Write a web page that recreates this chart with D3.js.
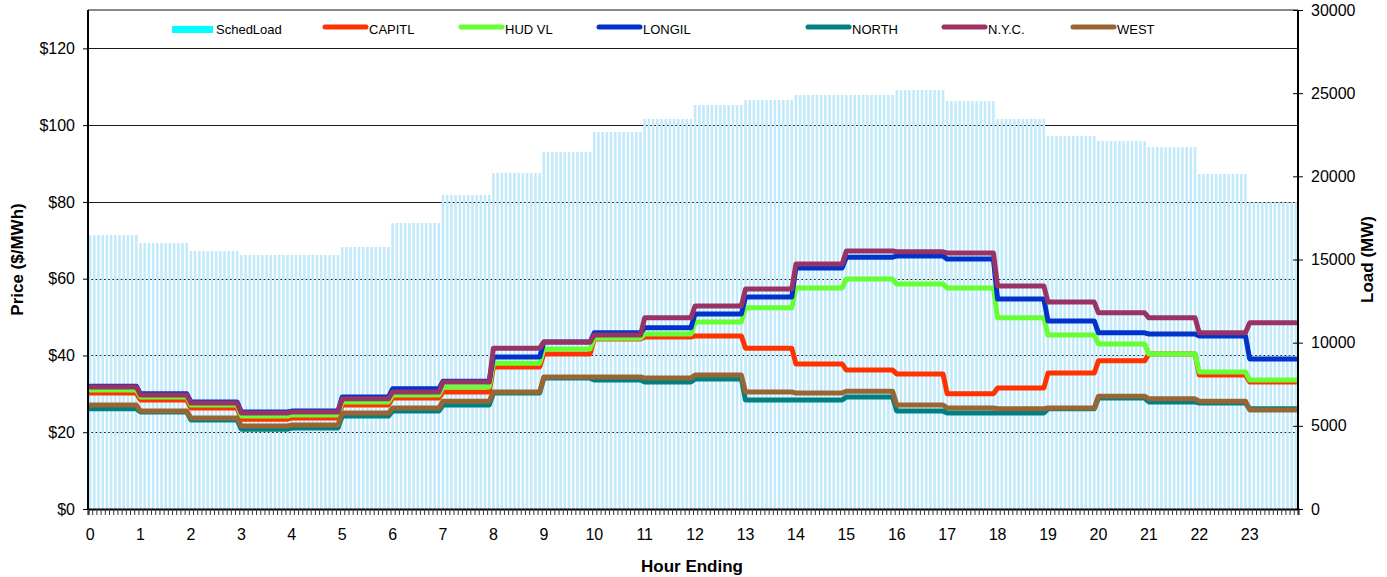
<!DOCTYPE html>
<html>
<head>
<meta charset="utf-8">
<script src="https://cdn.jsdelivr.net/npm/d3@7"></script>
<style>
  html, body { margin: 0; padding: 0; background: #fff; }
  svg { display: block; font-family: "Liberation Sans", Arial, sans-serif; }
</style>
</head>
<body>
<svg id="chart" width="1387" height="577"></svg>
<script>
// ---------- DATA (hourly values, each hour = 12 five-minute intervals) ----------
const hourLabels = ["0","1","2","3","4","5","6","7","8","9","10","11","12","13","14","15","16","17","18","19","20","21","22","23"];
const intervalsPerHour = 12;

const schedLoad = [16470, 15990, 15510, 15270, 15270, 15750, 17190, 18880, 20200, 21460, 22660, 23450,
                   24290, 24590, 24890, 24890, 25190, 24530, 23450, 22420, 22120, 21760, 20140, 18450];

const capitl = [30.2, 28.4, 26.3, 23.4, 23.7, 27.1, 28.9, 30.5, 37.0, 40.4, 44.3, 44.8,
                45.1, 41.9, 37.8, 36.2, 35.2, 30.0, 31.5, 35.4, 38.6, 40.4, 34.9, 33.1];
const hudvl  = [31.0, 29.2, 27.1, 24.2, 24.5, 27.9, 29.7, 31.8, 38.0, 41.7, 44.5, 45.6,
                48.7, 52.4, 57.6, 59.9, 58.6, 57.6, 49.8, 45.3, 43.0, 40.4, 35.7, 33.6];
const longil = [32.0, 30.0, 27.9, 25.3, 25.5, 29.2, 31.3, 33.3, 39.6, 43.5, 45.9, 47.2,
                50.8, 55.2, 62.8, 65.6, 65.9, 65.1, 54.7, 49.0, 45.9, 45.6, 45.1, 39.1];
const north  = [26.1, 25.3, 23.2, 20.8, 21.1, 24.2, 25.5, 27.1, 30.2, 34.1, 33.6, 33.1,
                33.9, 28.4, 28.4, 29.2, 25.5, 25.0, 25.0, 26.1, 28.9, 27.9, 27.6, 26.1];
const nyc    = [31.8, 29.7, 27.6, 25.0, 25.3, 28.7, 30.5, 33.1, 41.9, 43.5, 45.3, 49.8,
                52.9, 57.3, 63.8, 67.2, 67.0, 66.7, 58.1, 53.9, 51.1, 49.8, 45.9, 48.5];
const west   = [27.1, 25.5, 23.7, 21.6, 21.9, 25.0, 26.3, 28.1, 30.5, 34.4, 34.4, 34.1,
                34.9, 30.5, 30.2, 30.7, 27.1, 26.3, 26.1, 26.3, 29.4, 28.7, 28.1, 25.8];

const seriesNames  = ["CAPITL", "HUD VL", "LONGIL", "NORTH", "N.Y.C.", "WEST"];
const seriesValues = [capitl, hudvl, longil, north, nyc, west];
const seriesColors = ["#ff3300", "#66ff33", "#0033cc", "#008080", "#993366", "#996633"];

const priceTicks = [0, 20, 40, 60, 80, 100, 120];
const loadTicks  = [0, 5000, 10000, 15000, 20000, 25000, 30000];

// ---------- LAYOUT ----------
const svg = d3.select("#chart");
const L = 88, R = 1298, T = 10, B = 509;

const nCat = hourLabels.length * intervalsPerHour;
const cats = d3.range(nCat);
const hourOf = i => Math.floor(i / intervalsPerHour);

const x = d3.scaleBand().domain(cats).range([L, R]).paddingInner(0.38).paddingOuter(0.19);
const xLin = d3.scaleLinear().domain([0, nCat]).range([L, R]);
const yP = d3.scaleLinear().domain([0, 130]).range([B, T]);
const yL = d3.scaleLinear().domain([0, 30000]).range([B, T]);

// gridlines (behind bars)
svg.append("g").selectAll("line").data(priceTicks.filter(d => d > 0)).join("line")
  .attr("x1", L).attr("x2", R)
  .attr("y1", d => Math.round(yP(d)) + 0.5).attr("y2", d => Math.round(yP(d)) + 0.5)
  .attr("stroke", "#1a1a1a").attr("stroke-width", 1);

// load bars
svg.append("g").selectAll("rect").data(cats).join("rect")
  .attr("x", i => x(i))
  .attr("width", x.bandwidth())
  .attr("y", i => yL(schedLoad[hourOf(i)]))
  .attr("height", i => B - yL(schedLoad[hourOf(i)]))
  .attr("fill", "#c3eafa");

// price lines
const line = d3.line()
  .x(d => x(d.i) + x.bandwidth() / 2)
  .y(d => yP(d.v));

seriesValues.forEach((vals, k) => {
  const pts = cats.map(i => ({ i, v: vals[hourOf(i)] }));
  svg.append("path").datum(pts)
    .attr("d", line)
    .attr("fill", "none")
    .attr("stroke", seriesColors[k])
    .attr("stroke-width", 5)
    .attr("stroke-linejoin", "round")
    .attr("stroke-linecap", "round");
});

// frame top
svg.append("line").attr("x1", L).attr("x2", R).attr("y1", T).attr("y2", T)
  .attr("stroke", "#888").attr("stroke-width", 2);

// left axis
const gl = svg.append("g").attr("transform", `translate(${L},0)`)
  .call(d3.axisLeft(yP).tickValues(priceTicks).tickFormat(d => "$" + d).tickSize(5).tickPadding(8));
gl.select(".domain").attr("d", `M0,${T}V${B}`).attr("stroke-width", 2);
gl.selectAll("text").attr("font-size", 16).attr("font-family", "Liberation Sans, Arial").attr("fill", "#000");

// right axis (cross ticks)
const gr = svg.append("g").attr("transform", `translate(${R},0)`)
  .call(d3.axisRight(yL).tickValues(loadTicks).tickFormat(d3.format("d")).tickSize(5).tickPadding(8));
gr.select(".domain").attr("d", `M0,${T}V${B}`).attr("stroke-width", 2);
gr.selectAll(".tick line").attr("x1", -5);
gr.selectAll("text").attr("font-size", 16).attr("font-family", "Liberation Sans, Arial").attr("fill", "#000");

// bottom minor ticks at category boundaries
const gb = svg.append("g").attr("transform", `translate(0,${B})`)
  .call(d3.axisBottom(xLin).tickValues(d3.range(nCat + 1)).tickSize(6).tickFormat(""));
gb.select(".domain").attr("stroke-width", 2);
gb.selectAll(".tick line").attr("stroke", "#333");

// hour labels at first interval of each hour
const gh = svg.append("g").attr("transform", `translate(0,${B})`)
  .call(d3.axisBottom(x).tickValues(cats.filter(i => i % intervalsPerHour === 0))
    .tickFormat(i => hourLabels[hourOf(i)]).tickSize(0).tickPadding(20));
gh.select(".domain").remove();
gh.selectAll("text").attr("font-size", 16).attr("font-family", "Liberation Sans, Arial").attr("fill", "#000");

// axis titles
svg.append("text").attr("x", (L + R) / 2 - 1).attr("y", 572).attr("text-anchor", "middle")
  .attr("font-size", 17).attr("font-weight", "bold").text("Hour Ending");
svg.append("text").attr("transform", `translate(23,${(T + B) / 2}) rotate(-90)`).attr("text-anchor", "middle")
  .attr("font-size", 17).attr("font-weight", "bold").text("Price ($/MWh)");
svg.append("text").attr("transform", `translate(1373,${(T + B) / 2}) rotate(-90)`).attr("text-anchor", "middle")
  .attr("font-size", 17).attr("font-weight", "bold").text("Load (MW)");

// legend
const legendNames = ["SchedLoad"].concat(seriesNames);
const legendColors = ["#00ffff"].concat(seriesColors);
const legendX = [172, 323, 459, 597, 806, 942, 1071];
const lg = svg.append("g");
legendNames.forEach((name, k) => {
  const x0 = legendX[k];
  if (k === 0) {
    lg.append("rect").attr("x", x0).attr("y", 26).attr("width", 41).attr("height", 7).attr("fill", legendColors[k]);
  } else {
    lg.append("line").attr("x1", x0 + 2).attr("x2", x0 + 43).attr("y1", 27).attr("y2", 27)
      .attr("stroke", legendColors[k]).attr("stroke-width", 5).attr("stroke-linecap", "round");
  }
  lg.append("text").attr("x", x0 + (k === 0 ? 44 : 46)).attr("y", 34)
    .attr("font-size", 13).attr("font-family", "Liberation Sans Narrow, Arial Narrow, Liberation Sans, Arial")
    .attr("fill", "#000").text(name);
});
</script>
</body>
</html>
